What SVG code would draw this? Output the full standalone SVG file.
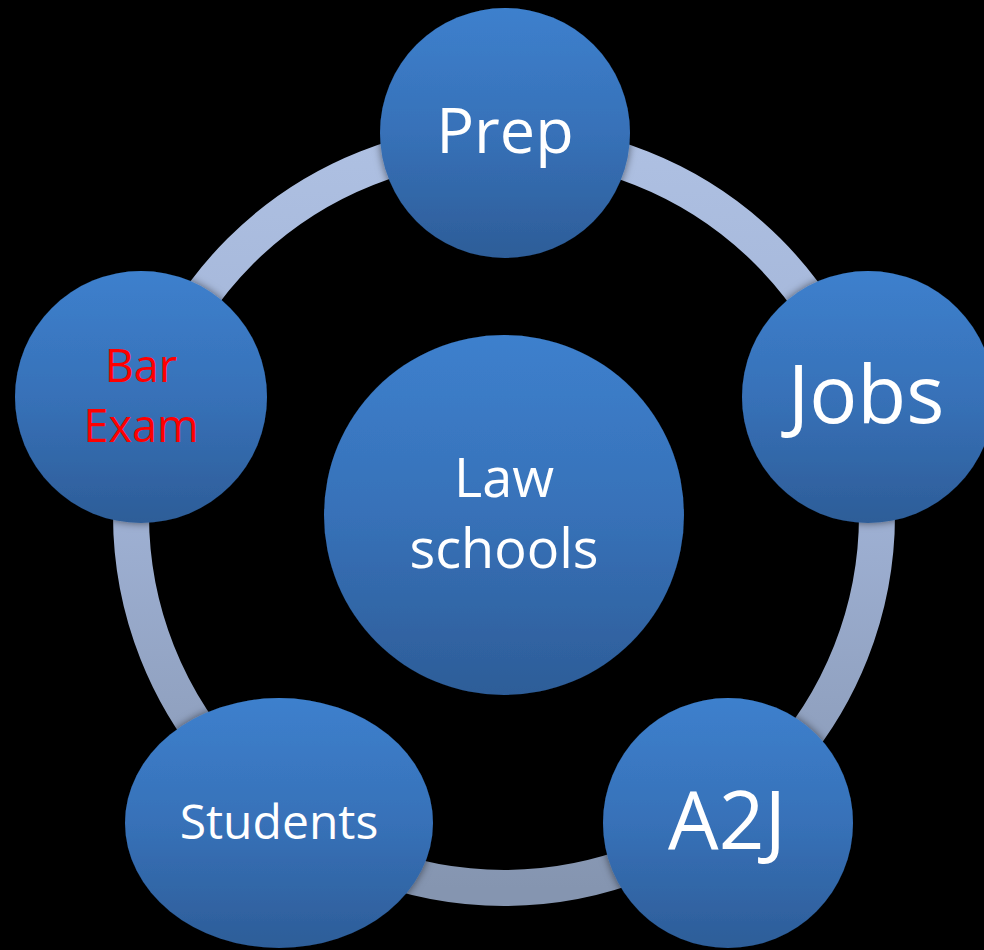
<svg xmlns="http://www.w3.org/2000/svg" width="984" height="950" viewBox="0 0 984 950">
  <defs>
    <linearGradient id="nodeFill" x1="0" y1="0" x2="0" y2="1">
      <stop offset="0" stop-color="#3d80cd"/>
      <stop offset="0.5" stop-color="#3771b8"/>
      <stop offset="1" stop-color="#2d5d98"/>
    </linearGradient>
    <linearGradient id="ringFill" gradientUnits="userSpaceOnUse" x1="0" y1="142" x2="0" y2="888">
      <stop offset="0" stop-color="#aec0e2"/>
      <stop offset="0.5" stop-color="#9eb0d3"/>
      <stop offset="1" stop-color="#8595b0"/>
    </linearGradient>
    <filter id="shadow" x="-20%" y="-20%" width="140%" height="140%">
      <feDropShadow dx="0" dy="0" stdDeviation="4" flood-color="#000" flood-opacity="0.55"/>
    </filter>
  </defs>
  <style>
    .node { fill: url(#nodeFill); filter: url(#shadow); }
    .lbl { font-family: "Open Sans", "Noto Sans", "Liberation Sans", sans-serif; fill: #ffffff; text-anchor: middle; }
    .red { fill: #ff0000; }
  </style>
  <rect x="0" y="0" width="984" height="950" fill="#000000"/>
  <g id="connectors">
    <circle cx="504" cy="515" r="373" fill="none" stroke="url(#ringFill)" stroke-width="36"/>
  </g>
  <g id="node-prep">
    <circle class="node" cx="505" cy="133" r="125"/>
    <text class="lbl" x="505" y="153" font-size="63">Prep</text>
  </g>
  <g id="node-jobs">
    <circle class="node" cx="868" cy="397" r="126"/>
    <text class="lbl" x="866" y="423" font-size="80">Jobs</text>
  </g>
  <g id="node-a2j">
    <circle class="node" cx="728" cy="823" r="125"/>
    <text class="lbl" x="727" y="849" font-size="80">A2J</text>
  </g>
  <g id="node-students">
    <ellipse class="node" cx="279" cy="823" rx="154" ry="125"/>
    <text class="lbl" x="279" y="839" font-size="48">Students</text>
  </g>
  <g id="node-bar-exam">
    <circle class="node" cx="141" cy="397" r="126"/>
    <text class="lbl red" x="141" y="382" font-size="45">Bar</text>
    <text class="lbl red" x="141" y="442" font-size="45">Exam</text>
  </g>
  <g id="node-law-schools">
    <circle class="node" cx="504" cy="515" r="180"/>
    <text class="lbl" x="504" y="497" font-size="54">Law</text>
    <text class="lbl" x="504" y="568" font-size="54">schools</text>
  </g>
</svg>
